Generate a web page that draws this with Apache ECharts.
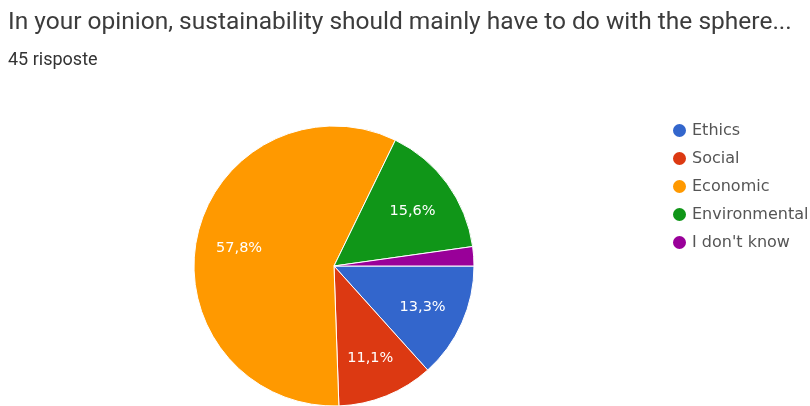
<!DOCTYPE html>
<html>
<head>
<meta charset="utf-8">
<script src="https://cdn.jsdelivr.net/npm/echarts@6/dist/echarts.min.js"></script>
<style>
html,body{margin:0;padding:0;background:#fff;}
#chart{width:810px;height:406px;}
</style>
</head>
<body>
<div id="chart"></div>
<script>
const titleText = "In your opinion, sustainability should mainly have to do with the sphere...";
const subtitleText = "45 risposte";
const categories = ["Ethics", "Social", "Economic", "Environmental", "I don't know"];
const counts = [6, 5, 26, 7, 1];
const colors = ["#3366cc", "#dc3912", "#ff9900", "#109618", "#990099"];

const total = counts.reduce((a, b) => a + b, 0);
const pct = v => (v / total * 100).toFixed(1).replace('.', ',') + '%';

const pieData = categories.map((c, i) => ({ name: c, value: counts[i], itemStyle: { color: colors[i] } }));
const labelData = categories.map((c, i) => ({
  name: c, value: counts[i],
  label: { show: counts[i] / total > 0.05 }
}));

const chart = echarts.init(document.getElementById('chart'));
chart.setOption({
  animation: false,
  backgroundColor: '#ffffff',
  title: [
    { text: titleText, left: 3, top: 5,
      textStyle: { fontFamily: 'Roboto', fontSize: 24.5, fontWeight: 'normal', color: '#3c3c3c' } },
    { text: subtitleText, left: 3, top: 46,
      textStyle: { fontFamily: 'Roboto', fontSize: 18, fontWeight: 'normal', color: '#333333' } }
  ],
  legend: {
    orient: 'vertical', left: 666, top: 117,
    icon: 'circle', itemWidth: 15, itemHeight: 15, itemGap: 11,
    data: categories,
    textStyle: { fontFamily: 'DejaVu Sans', fontSize: 16, lineHeight: 16, color: '#555555' }
  },
  series: [
    {
      type: 'pie', center: [334, 266], radius: [0, 140],
      startAngle: 0, clockwise: true,
      label: { show: false }, labelLine: { show: false },
      itemStyle: { borderColor: '#ffffff', borderWidth: 1 },
      emphasis: { disabled: true },
      data: pieData
    },
    {
      type: 'pie', center: [334, 268], radius: [48, 140],
      startAngle: 0, clockwise: true, silent: true,
      legendHoverLink: false,
      itemStyle: { color: 'rgba(0,0,0,0)', borderWidth: 0 },
      label: {
        position: 'inside', color: '#ffffff', fontFamily: 'DejaVu Sans', fontSize: 14.5,
        formatter: p => pct(p.value)
      },
      labelLine: { show: false },
      emphasis: { disabled: true },
      data: labelData
    }
  ]
});
</script>
</body>
</html>
